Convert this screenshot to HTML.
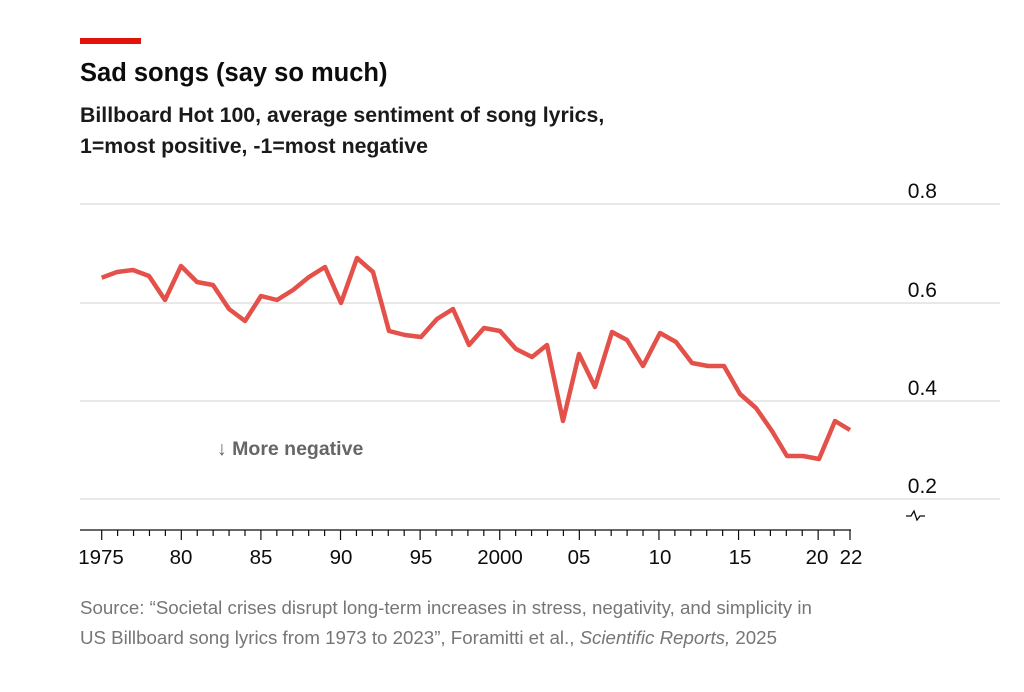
<!DOCTYPE html>
<html><head><style>
body{margin:0;background:#fff;width:1024px;height:687px;overflow:hidden;font-family:"Liberation Sans",sans-serif;}
</style></head><body>
<svg width="1024" height="687" xmlns="http://www.w3.org/2000/svg" font-family="Liberation Sans, sans-serif">
<rect x="80" y="38" width="61" height="6" fill="#e3120b"/>
<text x="80" y="81" font-size="25.5" font-weight="bold" fill="#0c0c0c">Sad songs (say so much)</text>
<text x="80" y="122" font-size="21.3" font-weight="bold" fill="#1a1a1a">Billboard Hot 100, average sentiment of song lyrics,</text>
<text x="80" y="153" font-size="21.3" font-weight="bold" fill="#1a1a1a">1=most positive, -1=most negative</text>
<g stroke="#d9d9d9" stroke-width="1.2">
<line x1="80" y1="204" x2="1000" y2="204"/>
<line x1="80" y1="303" x2="1000" y2="303"/>
<line x1="80" y1="401" x2="1000" y2="401"/>
<line x1="80" y1="499" x2="1000" y2="499"/>
</g>
<g font-size="21" fill="#0c0c0c" text-anchor="end">
<text x="937" y="198">0.8</text>
<text x="937" y="297">0.6</text>
<text x="937" y="395">0.4</text>
<text x="937" y="493">0.2</text>
</g>
<path d="M906 516 l5 0 l3 -5 l3 9 l3 -4 l5 0" fill="none" stroke="#0c0c0c" stroke-width="1.3"/>
<text x="217" y="455" font-size="19.5" font-weight="bold" fill="#666">↓ More negative</text>
<polyline fill="none" stroke="#e3514a" stroke-width="4.5" stroke-linejoin="round" points="101.7,277.7 117,272 133,270 149,276 165,300 181,266 197,282 213,285 229,309 245,321 261,296 277,300 293,290 309,277 325,267 341,303 357,258 373,272 389,331 405,335 421,337 437,319 453,309 469,345 484,328 500,331 516,349 532,357 547,345 563,421 579,354 595,387 612,332 627,340 643,366 660,333 676,342 692,363 708,366 724,366 740,394 756,408 772,431 787,456 803,456 819,459 835,421 850,430"/>
<line x1="80" y1="530" x2="851" y2="530" stroke="#0c0c0c" stroke-width="1.3"/>
<g stroke="#0c0c0c" stroke-width="1.2" id="ticks"></g>
<g font-size="20.5" fill="#0c0c0c" text-anchor="middle">
<text x="101" y="564">1975</text>
<text x="181" y="564">80</text>
<text x="261" y="564">85</text>
<text x="341" y="564">90</text>
<text x="421" y="564">95</text>
<text x="500" y="564">2000</text>
<text x="579" y="564">05</text>
<text x="660" y="564">10</text>
<text x="740" y="564">15</text>
<text x="817" y="564">20</text>
<text x="851" y="564">22</text>
</g>
<text x="80" y="614" font-size="18.7" fill="#767676">Source: “Societal crises disrupt long-term increases in stress, negativity, and simplicity in</text>
<text x="80" y="644" font-size="18.7" fill="#767676">US Billboard song lyrics from 1973 to 2023”, Foramitti et al., <tspan font-style="italic">Scientific Reports,</tspan> 2025</text>
<script>
var g=document.getElementById('ticks');
for(var i=0;i<=47;i++){var x=101.7+i*(850-101.7)/47;var l=document.createElementNS('http://www.w3.org/2000/svg','line');
l.setAttribute('x1',x);l.setAttribute('x2',x);l.setAttribute('y1',530);l.setAttribute('y2',(i%5==0||i==47)?540:536);g.appendChild(l);}
</script>
</svg>
</body></html>
